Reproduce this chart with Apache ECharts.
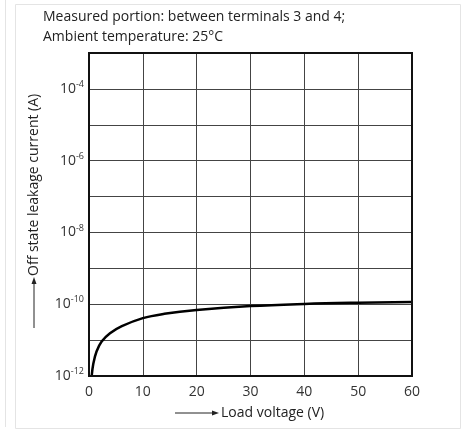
<!DOCTYPE html>
<html>
<head>
<meta charset="utf-8">
<script src="https://cdn.jsdelivr.net/npm/echarts@6/dist/echarts.min.js"></script>
<style>html,body{margin:0;padding:0;background:#fff;}#c{width:466px;height:439px;}</style>
</head>
<body>
<div id="c"></div>
<script>
const titleLines = ['Measured portion: between terminals 3 and 4;', 'Ambient temperature: 25°C'];
const xLabel = 'Load voltage (V)';
const yLabel = 'Off state leakage current (A)';
const voltage = [0.5, 0.8, 1.4, 2.35, 3.9, 6.1, 10, 14, 20, 30, 40, 50, 60];
const current = [1.0e-12, 2.2e-12, 4.8e-12, 9.1e-12, 1.55e-11, 2.45e-11, 4.1e-11, 5.4e-11, 6.9e-11, 8.9e-11, 1.02e-10, 1.1e-10, 1.15e-10];
const xTicks = [0, 10, 20, 30, 40, 50, 60];
const yDecadeLabels = [-12, -10, -8, -6, -4];

const FONT = '"Open Sans", "Noto Sans", sans-serif';
const chart = echarts.init(document.getElementById('c'), null, {renderer: 'canvas'});
const pts = voltage.map((v, i) => [v, current[i]]);

chart.setOption({
  animation: false,
  backgroundColor: '#fff',
  grid: {left: 89, top: 53, right: 54, bottom: 63, containLabel: false},
  xAxis: {
    type: 'value', min: 0, max: 60, interval: 10,
    axisLine: {show: true, onZero: false, lineStyle: {color: '#111', width: 2}},
    axisTick: {show: false},
    axisLabel: {color: '#333', fontSize: 14, fontFamily: FONT, margin: 9,
      formatter: function (v) { return xTicks.indexOf(v) >= 0 ? String(v) : ''; }},
    splitLine: {show: true, lineStyle: {color: '#444', width: 1}}
  },
  yAxis: {
    type: 'log', logBase: 10, min: 1e-12, max: 1e-3, splitNumber: 9,
    axisLine: {show: true, lineStyle: {color: '#111', width: 2}},
    axisTick: {show: false},
    axisLabel: {
      margin: 5, fontFamily: FONT,
      formatter: function (v) {
        const e = Math.round(Math.log10(v));
        if (yDecadeLabels.indexOf(e) < 0) return '';
        return '{b|10}{s|' + e + '}';
      },
      rich: {
        b: {fontSize: 14, color: '#333', fontFamily: FONT},
        s: {fontSize: 9, color: '#333', fontFamily: FONT, padding: [0, 0, 9, 0]}
      }
    },
    splitLine: {show: true, lineStyle: {color: '#444', width: 1}}
  },
  series: [{
    type: 'line', data: pts, smooth: 0.4, showSymbol: false,
    lineStyle: {color: '#000', width: 2.5}, z: 5
  }],
  graphic: [
    {type: 'rect', shape: {x: 15.5, y: 4.5, width: 445, height: 424}, style: {fill: 'none', stroke: '#e4e4e4', lineWidth: 1}, z: -10},
    {type: 'line', shape: {x1: 5.5, y1: 0, x2: 5.5, y2: 427}, style: {stroke: '#e4e4e4', lineWidth: 1}, z: -10},
    {type: 'rect', shape: {x: 89, y: 53, width: 323, height: 323}, style: {fill: 'none', stroke: '#111', lineWidth: 2}, z: 10},
    {type: 'text', left: 43, top: 10, style: {text: titleLines[0], fontSize: 14, fontFamily: FONT, fill: '#222'}},
    {type: 'text', left: 43, top: 30, style: {text: titleLines[1], fontSize: 14, fontFamily: FONT, fill: '#222'}},
    {type: 'line', shape: {x1: 175, y1: 413, x2: 214, y2: 413}, style: {stroke: '#222', lineWidth: 1}},
    {type: 'polygon', shape: {points: [[219, 413], [212, 410.5], [212, 415.5]]}, style: {fill: '#222'}},
    {type: 'text', x: 221, y: 413, style: {text: xLabel, fontSize: 14, fontFamily: FONT, fill: '#222', verticalAlign: 'middle', align: 'left'}},
    {type: 'line', shape: {x1: 34, y1: 328, x2: 34, y2: 282}, style: {stroke: '#222', lineWidth: 1}},
    {type: 'polygon', shape: {points: [[34, 277], [31.5, 284], [36.5, 284]]}, style: {fill: '#222'}},
    {type: 'text', x: 34, y: 276, rotation: Math.PI / 2, style: {text: yLabel, fontSize: 14, fontFamily: FONT, fill: '#222', verticalAlign: 'middle', align: 'left'}}
  ]
});
</script>
</body>
</html>
